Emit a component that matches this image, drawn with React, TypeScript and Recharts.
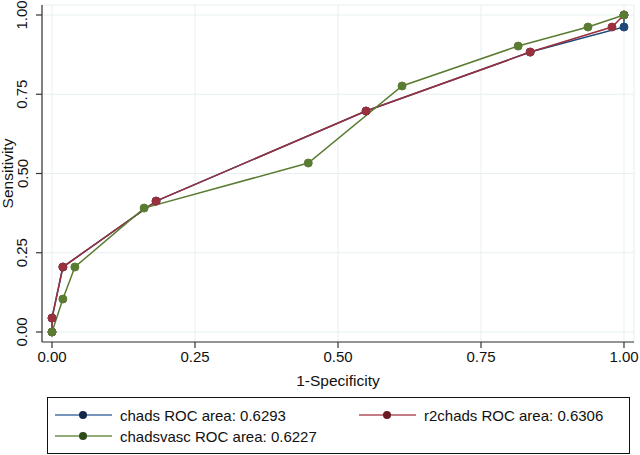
import React from 'react';
import { LineChart, Line, XAxis, YAxis, CartesianGrid } from 'recharts';

const axisTicks = [0, 0.25, 0.5, 0.75, 1];
const tickLabels = ['0.00', '0.25', '0.50', '0.75', '1.00'];

const chadsX = [0, 0, 0.019, 0.182, 0.549, 0.836, 1.0, 1.0];
const chadsY = [0, 0.044, 0.205, 0.413, 0.697, 0.883, 0.962, 1.0];

const r2chadsX = [0, 0, 0.019, 0.182, 0.549, 0.836, 0.979, 1.0];
const r2chadsY = [0, 0.044, 0.205, 0.413, 0.697, 0.883, 0.962, 1.0];

const chadsvascX = [0, 0.019, 0.04, 0.161, 0.448, 0.612, 0.815, 0.937, 1.0];
const chadsvascY = [0, 0.104, 0.205, 0.391, 0.533, 0.776, 0.902, 0.962, 1.0];

const seriesNames = ['chads ROC area: 0.6293', 'r2chads ROC area: 0.6306', 'chadsvasc ROC area: 0.6227'];
const seriesColors = ['#1f4a78', '#9a2f3d', '#5a7c32'];
const legendDotColors = ['#12284a', '#6a1a22', '#2c4a1a'];
const legendLineColors = ['#4a72a4', '#b0505e', '#6f8f48'];

const toPts = (xs: number[], ys: number[]) => xs.map((x, i) => ({ x, y: ys[i] }));

const series = [
  { name: seriesNames[0], data: toPts(chadsX, chadsY), color: seriesColors[0] },
  { name: seriesNames[1], data: toPts(r2chadsX, r2chadsY), color: seriesColors[1] },
  { name: seriesNames[2], data: toPts(chadsvascX, chadsvascY), color: seriesColors[2] },
];

const FONT = '"Liberation Sans", Arial, Helvetica, sans-serif';

const YTick = (props: any) => {
  const { y, payload } = props;
  const idx = axisTicks.indexOf(payload.value);
  const x = 27.5;
  return (
    <text x={x} y={y} transform={`rotate(-90, ${x}, ${y})`} textAnchor="middle" fontSize={15} fill="#111" fontFamily={FONT}>
      {tickLabels[idx] ?? payload.value}
    </text>
  );
};

const XTick = (props: any) => {
  const { x, y, payload } = props;
  const idx = axisTicks.indexOf(payload.value);
  return (
    <text x={x} y={y + 12} textAnchor="middle" fontSize={15} fill="#111" fontFamily={FONT}>
      {tickLabels[idx] ?? payload.value}
    </text>
  );
};

const LegendGlyph = ({ i }: { i: number }) => (
  <svg width={57} height={12} style={{ display: 'block' }}>
    <line x1={0} y1={6} x2={57} y2={6} stroke={legendLineColors[i]} strokeWidth={1.5} />
    <circle cx={28} cy={6} r={4} fill={legendDotColors[i]} />
  </svg>
);

const legendPos = [
  { left: 7, top: 18 },
  { left: 311, top: 18 },
  { left: 7, top: 39 },
];

export default function App() {
  return (
    <div style={{ position: 'absolute', left: 0, top: 0, width: 640, height: 455, background: '#fff' }}>
      <LineChart width={640} height={455} margin={{ top: 5, right: 6, bottom: 73, left: 0 }}>
        <CartesianGrid stroke="#e6eff1" strokeWidth={1} />
        <XAxis
          type="number"
          dataKey="x"
          domain={[-0.0175, 1.0175]}
          ticks={axisTicks}
          allowDataOverflow
          height={40}
          tickSize={6}
          tick={<XTick />}
          stroke="#333"
          strokeWidth={1.2}
          label={({ viewBox }: any) => (
            <text x={viewBox.x + viewBox.width / 2} y={386} textAnchor="middle" fontSize={15.5} fill="#111" fontFamily={FONT}>
              1-Specificity
            </text>
          )}
        />
        <YAxis
          type="number"
          dataKey="y"
          domain={[-0.0315, 1.0315]}
          ticks={axisTicks}
          allowDataOverflow
          width={42}
          tickSize={6}
          tick={<YTick />}
          stroke="#333"
          strokeWidth={1.2}
          label={({ viewBox }: any) => {
            const cy = viewBox.y + viewBox.height / 2;
            return (
              <text x={13} y={cy} transform={`rotate(-90, 13, ${cy})`} textAnchor="middle" fontSize={15.5} fill="#111" fontFamily={FONT}>
                Sensitivity
              </text>
            );
          }}
        />
        {series.map((s) => (
          <Line
            key={s.name}
            data={s.data}
            dataKey="y"
            name={s.name}
            type="linear"
            stroke={s.color}
            strokeWidth={1.5}
            dot={{ r: 4, fill: s.color, stroke: s.color, strokeWidth: 1 }}
            isAnimationActive={false}
          />
        ))}
      </LineChart>
      <div
        style={{
          position: 'absolute',
          left: 47,
          top: 397,
          width: 583,
          height: 57,
          border: '1px solid #111',
          boxSizing: 'border-box',
          fontFamily: FONT,
          fontSize: 15,
          color: '#111',
        }}
      >
        {seriesNames.map((n, i) => (
          <div
            key={n}
            style={{ position: 'absolute', left: legendPos[i].left, top: legendPos[i].top - 10, display: 'flex', alignItems: 'center', whiteSpace: 'nowrap', height: 18 }}
          >
            <LegendGlyph i={i} />
            <span style={{ marginLeft: 8 }}>{n}</span>
          </div>
        ))}
      </div>
    </div>
  );
}
